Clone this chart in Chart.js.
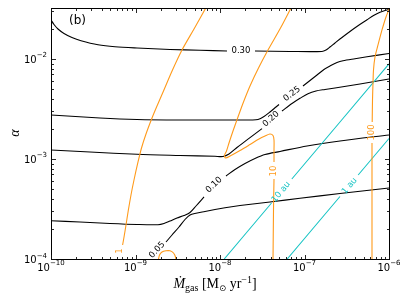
<!DOCTYPE html>
<html><head><meta charset="utf-8">
<script src="https://cdn.jsdelivr.net/npm/chart.js@4.4.1/dist/chart.umd.min.js"></script>
<style>html,body{margin:0;padding:0;background:#fff}#wrap{width:411px;height:308px;position:relative}</style>
</head><body><div id="wrap"><canvas id="c" width="411" height="308"></canvas></div>
<script>
// ---- axis ticks ----
const xTickValues = [1e-10, 1e-9, 1e-8, 1e-7, 1e-6];
const xTickExponents = ['\u221210', '\u22129', '\u22128', '\u22127', '\u22126'];
const yTickValues = [1e-4, 1e-3, 1e-2];
const yTickExponents = ['\u22124', '\u22123', '\u22122'];

// ---- black contours ----
const mdot030a = [1e-10,1.085e-10,1.21e-10,1.425e-10,1.77e-10,2.265e-10,3.6e-10,5.72e-10,1.042e-9,2.56e-9,5.8e-9,1.21e-8];
const alpha030a = [2.455e-2,2.213e-2,1.995e-2,1.80e-2,1.64e-2,1.524e-2,1.39e-2,1.327e-2,1.288e-2,1.245e-2,1.222e-2,1.202e-2];
const mdot030b = [2.594e-8,6.73e-8,1.61e-7,1.797e-7,2.003e-7,2.296e-7,2.778e-7,3.451e-7,4.295e-7,5.495e-7,6.645e-7,7.82e-7,8.968e-7,1e-6];
const alpha030b = [1.202e-2,1.189e-2,1.189e-2,1.230e-2,1.318e-2,1.445e-2,1.64e-2,1.884e-2,2.148e-2,2.466e-2,2.735e-2,2.931e-2,3.055e-2,3.126e-2];

const mdot025a = [1e-10,3.80e-10,1.042e-9,3.362e-9,1.313e-8,2.392e-8,2.817e-8,3.317e-8,3.905e-8,4.6e-8,4.992e-8];
const alpha025a = [2.754e-3,2.570e-3,2.483e-3,2.455e-3,2.455e-3,2.455e-3,2.483e-3,2.661e-3,2.951e-3,3.311e-3,3.508e-3];
const mdot025b = [9.598e-8,1.162e-7,1.406e-7,1.701e-7,2.003e-7,2.424e-7,2.854e-7,3.958e-7,5.495e-7,1e-6];
const alpha025b = [5.370e-3,6.095e-3,6.918e-3,7.852e-3,8.511e-3,9.226e-3,9.616e-3,1.007e-2,1.052e-2,1.135e-2];

const mdot020a = [1e-10,2.894e-10,1.042e-9,3.362e-9,8.726e-9,1.085e-8,1.278e-8,1.589e-8,2.031e-8,2.526e-8,3.141e-8];
const alpha020a = [1.230e-3,1.175e-3,1.114e-3,1.084e-3,1.064e-3,1.059e-3,1.122e-3,1.303e-3,1.524e-3,1.754e-3,2.014e-3];
const mdot020b = [5.415e-8,7.115e-8,8.845e-8,1.1e-7,1.368e-7,1.748e-7,2.296e-7,4.538e-7,1e-6];
const alpha020b = [3.020e-3,3.589e-3,4.046e-3,4.498e-3,4.786e-3,4.955e-3,5.129e-3,5.623e-3,6.310e-3];

const mdot010a = [1e-10,2.204e-10,4.992e-10,1.042e-9,1.846e-9,2.174e-9,2.56e-9,3.098e-9,3.75e-9,4.416e-9,5.2e-9,6.467e-9];
const alpha010a = [2.415e-4,2.344e-4,2.265e-4,2.213e-4,2.203e-4,2.265e-4,2.399e-4,2.570e-4,2.723e-4,2.917e-4,3.388e-4,4.169e-4];
const mdot010b = [1.178e-8,1.505e-8,1.977e-8,2.594e-8,3.408e-8,5.13e-8,1.071e-7,2.631e-7,1e-6];
const alpha010b = [6.761e-4,7.852e-4,9.016e-4,1.012e-3,1.109e-3,1.189e-3,1.349e-3,1.514e-3,1.738e-3];

const mdot005 = [2.296e-9,2.704e-9,3.272e-9,3.853e-9,4.416e-9,5.2e-9,6.645e-9,8.726e-9,1.146e-8,1.725e-8,3.905e-8,8.845e-8,2.631e-7,1e-6];
const alpha005 = [1.479e-4,1.738e-4,2.089e-4,2.483e-4,2.754e-4,2.864e-4,2.985e-4,3.126e-4,3.258e-4,3.428e-4,3.715e-4,4.046e-4,4.519e-4,5.129e-4];

// ---- orange contours (1, 10, 100) ----
const mdotO1 = [7.0e-9,4.924e-9,3.55e-9,2.741e-9,2.145e-9,1.797e-9,1.568e-9,1.331e-9,1.178e-9,1.071e-9,9.598e-10,8.845e-10,8.196e-10,7.718e-10,7.349e-10,7.036e-10];
const alphaO1 = [3.388e-2,1.995e-2,1.230e-2,7.762e-3,4.786e-3,3.388e-3,2.570e-3,1.778e-3,1.288e-3,9.333e-4,6.166e-4,4.365e-4,3.020e-4,2.188e-4,1.698e-4,1.380e-4];
const mdotArc = [1.846e-9,1.923e-9,2.058e-9,2.296e-9,2.56e-9,2.817e-9,2.975e-9,3.016e-9];
const alphaArc = [9.333e-5,1.096e-4,1.175e-4,1.208e-4,1.208e-4,1.148e-4,1.047e-4,9.333e-5];

const mdotO10a = [7.115e-8,5.2e-8,3.698e-8,2.855e-8,2.265e-8,1.897e-8,1.633e-8,1.425e-8,1.278e-8,1.194e-8,1.131e-8,1.16e-8,1.35e-8,1.725e-8,2.265e-8,2.894e-8,3.408e-8,3.905e-8,4.239e-8,4.357e-8,4.357e-8,4.357e-8];
const alphaO10a = [3.388e-2,2.042e-2,1.230e-2,8.128e-3,5.370e-3,3.715e-3,2.630e-3,1.905e-3,1.445e-3,1.202e-3,1.084e-3,1.023e-3,1.084e-3,1.216e-3,1.396e-3,1.585e-3,1.698e-3,1.778e-3,1.718e-3,1.549e-3,1.230e-3,9.333e-4];
const mdotO10b = [4.357e-8,4.297e-8,4.239e-8];
const alphaO10b = [6.310e-4,3.090e-4,9.333e-5];

const mdotO100a = [1.027e-6,9.215e-7,8.264e-7,7.411e-7,6.828e-7,6.555e-7,6.467e-7,6.379e-7,6.327e-7];
const alphaO100a = [3.311e-2,2.630e-2,1.950e-2,1.380e-2,1.047e-2,7.762e-3,5.754e-3,3.890e-3,2.344e-3];
const mdotO100b = [6.292e-7,6.292e-7,6.292e-7];
const alphaO100b = [1.445e-3,3.890e-4,9.333e-5];

// ---- cyan radius lines (10 au, 1 au) ----
const mdot10auA = [1.122e-8,4.074e-8];  const alpha10auA = [1e-4,3.631e-4];
const mdot10auB = [7.079e-8,1e-6];      const alpha10auB = [6.310e-4,8.913e-3];
const mdot1auA  = [6.237e-8,2.630e-7];  const alpha1auA  = [1e-4,4.217e-4];
const mdot1auB  = [4.315e-7,1e-6];      const alpha1auB  = [6.918e-4,1.603e-3];

// ---- inline labels (anchored at data values) ----
const blackLabelText  = ['0.30','0.25','0.20','0.10','0.05'];
const blackLabelMdot  = [1.77e-8, 7.11e-8, 4.02e-8, 8.49e-9, 1.80e-9];
const blackLabelAlpha = [1.20e-2, 4.47e-3, 2.51e-3, 5.50e-4, 1.23e-4];
const orangeLabelText  = ['1','10','100'];
const orangeLabelMdot  = [6.556e-10, 4.297e-8, 6.292e-7];
const orangeLabelAlpha = [1.202e-4, 7.586e-4, 1.841e-3];
const cyanLabelText  = ['10 au','1 au'];
const cyanLabelMdot  = [5.272e-8, 3.408e-7];
const cyanLabelAlpha = [4.677e-4, 5.370e-4];

// ---- styles ----
const BLACK = '#000000', ORANGE = '#ff9a1a', CYAN = '#18c4c4';
const blackLabelAngle = [0, -37, -42, -44, -47];
const cyanLabelAngle = -49.8;

function pts(xs, ys){ return xs.map((v,i)=>({x:v, y:ys[i]})); }
function ds(xs, ys, color){
  return {data: pts(xs,ys), showLine:true, borderColor:color, backgroundColor:color,
          borderWidth:1.1, pointRadius:0, tension:0.3, fill:false};
}

const datasets = [
  ds(mdotO1, alphaO1, ORANGE), ds(mdotArc, alphaArc, ORANGE),
  ds(mdotO10a, alphaO10a, ORANGE), ds(mdotO10b, alphaO10b, ORANGE),
  ds(mdotO100a, alphaO100a, ORANGE), ds(mdotO100b, alphaO100b, ORANGE),
  ds(mdot10auA, alpha10auA, CYAN), ds(mdot10auB, alpha10auB, CYAN),
  ds(mdot1auA, alpha1auA, CYAN), ds(mdot1auB, alpha1auB, CYAN),
  ds(mdot030a, alpha030a, BLACK), ds(mdot030b, alpha030b, BLACK),
  ds(mdot025a, alpha025a, BLACK), ds(mdot025b, alpha025b, BLACK),
  ds(mdot020a, alpha020a, BLACK), ds(mdot020b, alpha020b, BLACK),
  ds(mdot010a, alpha010a, BLACK), ds(mdot010b, alpha010b, BLACK),
  ds(mdot005, alpha005, BLACK)
];

function drawPow(ctx, exp, x, y, align){
  ctx.font = '10px "DejaVu Sans"';
  const w1 = ctx.measureText('10').width;
  ctx.font = '7px "DejaVu Sans"';
  const w2 = ctx.measureText(exp).width;
  const tot = w1 + w2;
  let s = align === 'right' ? x - tot : x - tot/2;
  ctx.textAlign = 'left'; ctx.textBaseline = 'alphabetic';
  ctx.font = '10px "DejaVu Sans"'; ctx.fillText('10', s, y);
  ctx.font = '7px "DejaVu Sans"'; ctx.fillText(exp, s + w1, y - 5.5);
}

function rotText(ctx, txt, x, y, deg, font, color){
  ctx.save(); ctx.translate(x, y); ctx.rotate(deg*Math.PI/180);
  ctx.font = font; ctx.fillStyle = color; ctx.textAlign='center'; ctx.textBaseline='middle';
  ctx.fillText(txt, 0, 0); ctx.restore();
}

const decor = {
  id:'decor',
  afterDatasetsDraw(chart){
    const ctx = chart.ctx, xs = chart.scales.x, ys = chart.scales.y;
    ctx.save();
    const lf = '8.5px "DejaVu Sans"';
    blackLabelText.forEach((t,i)=>rotText(ctx,t,xs.getPixelForValue(blackLabelMdot[i]),ys.getPixelForValue(blackLabelAlpha[i]),blackLabelAngle[i],lf,BLACK));
    orangeLabelText.forEach((t,i)=>rotText(ctx,t,xs.getPixelForValue(orangeLabelMdot[i]),ys.getPixelForValue(orangeLabelAlpha[i]),-90,lf,ORANGE));
    cyanLabelText.forEach((t,i)=>rotText(ctx,t,xs.getPixelForValue(cyanLabelMdot[i]),ys.getPixelForValue(cyanLabelAlpha[i]),cyanLabelAngle,lf,CYAN));

    ctx.strokeStyle = '#000'; ctx.lineWidth = 1;
    const L = 51.5, R = 389.5, T = 8.5, B = 259.5;
    ctx.strokeRect(L, T, R-L, B-T);
    ctx.lineWidth = 0.9; ctx.strokeStyle = '#111';
    function xtick(v, len){
      const p = Math.round(xs.getPixelForValue(v)) + 0.5;
      ctx.beginPath(); ctx.moveTo(p, B); ctx.lineTo(p, B-len); ctx.moveTo(p, T); ctx.lineTo(p, T+len); ctx.stroke();
    }
    function ytick(v, len){
      const p = Math.round(ys.getPixelForValue(v)) + 0.5;
      ctx.beginPath(); ctx.moveTo(L, p); ctx.lineTo(L+len, p); ctx.moveTo(R, p); ctx.lineTo(R-len, p); ctx.stroke();
    }
    xTickValues.forEach(v=>xtick(v,4.5));
    for (let i=0;i<xTickValues.length-1;i++) for (let m=2;m<10;m++) xtick(m*xTickValues[i],2.5);
    yTickValues.forEach(v=>ytick(v,4.5));
    for (let i=0;i<yTickValues.length;i++) for (let m=2;m<10;m++){ const v=m*yTickValues[i]; if (v<=ys.max) ytick(v,2.5); }

    ctx.fillStyle = '#000';
    xTickValues.forEach((v,i)=>drawPow(ctx, xTickExponents[i], xs.getPixelForValue(v), 270.5, 'center'));
    yTickValues.forEach((v,i)=>drawPow(ctx, yTickExponents[i], 47, ys.getPixelForValue(v)+4, 'right'));

    const SF = '"Liberation Serif", "DejaVu Serif", serif';
    const parts = [
      {t:'\u1E40', f:'italic 14px '+SF, dy:0},
      {t:'gas', f:'10px '+SF, dy:3},
      {t:' [M', f:'14px '+SF, dy:0},
      {t:'\u2299', f:'8.5px "DejaVu Sans"', dy:3},
      {t:' yr', f:'14px '+SF, dy:0},
      {t:'\u22121', f:'10px '+SF, dy:-5.5},
      {t:']', f:'14px '+SF, dy:0}
    ];
    let tot = 0;
    parts.forEach(p=>{ctx.font=p.f; p.w=ctx.measureText(p.t).width; tot+=p.w;});
    let sx = 215 - tot/2;
    ctx.textAlign='left'; ctx.textBaseline='alphabetic';
    parts.forEach(p=>{ctx.font=p.f; ctx.fillText(p.t, sx, 288+p.dy); sx+=p.w;});

    rotText(ctx, '\u03B1', 15, 133, -90, 'italic 14px '+SF, '#000');

    ctx.font = '12px "DejaVu Sans"'; ctx.textAlign='left'; ctx.textBaseline='alphabetic'; ctx.fillStyle='#000';
    ctx.fillText('(b)', 69, 23.5);
    ctx.restore();
  }
};

new Chart(document.getElementById('c').getContext('2d'), {
  type:'scatter',
  data:{datasets},
  options:{
    responsive:false, animation:false, devicePixelRatio:1,
    layout:{padding:{left:0, top:9, right:22, bottom:0}},
    plugins:{legend:{display:false}, tooltip:{enabled:false}},
    elements:{point:{radius:0}},
    scales:{
      x:{type:'logarithmic', min:1e-10, max:1e-6, grid:{display:false}, border:{display:false},
         ticks:{display:false}, afterFit(s){ s.height = 49; }},
      y:{type:'logarithmic', min:1e-4, max:0.0316, grid:{display:false}, border:{display:false},
         ticks:{display:false}, afterFit(s){ s.width = 51; }}
    }
  },
  plugins:[decor]
});
</script></body></html>
